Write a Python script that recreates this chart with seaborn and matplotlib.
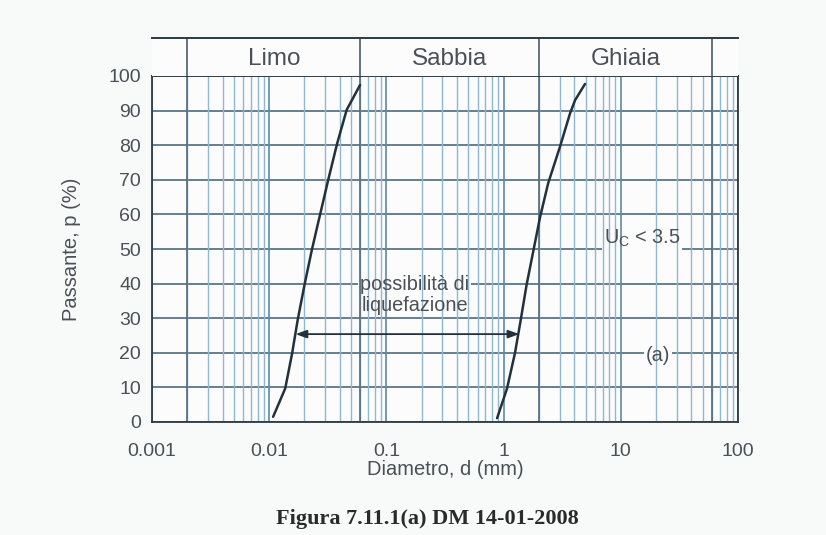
import numpy as np
import pandas as pd
import matplotlib
matplotlib.use("Agg")
import matplotlib.pyplot as plt
import seaborn as sns

# ---- data ----
left_p = [1.5, 9.7, 19.9, 29.5, 39.6, 49.7, 59.8, 70.0, 80.5, 90.2, 97.4]
left_d = [0.0108, 0.0137, 0.0157, 0.0175, 0.0200, 0.0231, 0.0271, 0.0319, 0.0380, 0.0458, 0.0596]
right_p = [1.1, 9.7, 19.9, 29.5, 39.6, 49.7, 59.3, 69.0, 79.6, 89.2, 93.0, 97.7]
right_d = [0.88, 1.07, 1.25, 1.40, 1.57, 1.80, 2.05, 2.40, 3.03, 3.69, 4.07, 4.95]
classes = ["Limo", "Sabbia", "Ghiaia"]
class_bounds = [0.002, 0.06, 2, 60]
x_ticks = [0.001, 0.01, 0.1, 1, 10, 100]
x_ticklabels = ["0.001", "0.01", "0.1", "1", "10", "100"]
y_ticks = list(range(0, 101, 10))
arrow_p = 25.4
arrow_d = [0.0168, 1.36]

df = pd.concat([
    pd.DataFrame({"d": left_d, "p": left_p, "curva": "inf"}),
    pd.DataFrame({"d": right_d, "p": right_p, "curva": "sup"}),
])

sns.set_theme(style="white")
plt.rcParams["font.family"] = ["Liberation Sans", "DejaVu Sans"]

W, H = 826, 535
fig = plt.figure(figsize=(W / 100, H / 100), dpi=100)
bg = "#f8f9f9"
fig.patch.set_facecolor(bg)

L, R, B, T = 152 / W, 738 / W, 1 - 422 / H, 1 - 76 / H
ax = fig.add_axes([L, B, R - L, T - B])
ax.set_facecolor("#fcfcfc")

text_c = "#4a5057"
curve_c = "#22313b"

ax.set_xscale("log")
ax.set_xlim(0.001, 100)
ax.set_ylim(0, 100)
ax.grid(False)

# horizontal grid (below text boxes)
for yv in y_ticks:
    ax.axhline(yv, color="#3c5d72", lw=1.1, zorder=1)
# vertical grid (above text boxes)
for dec in [0.001, 0.01, 0.1, 1, 10]:
    for m in range(2, 10):
        ax.axvline(dec * m, color="#8fb6d2", lw=1.0, zorder=2)
for dec in x_ticks:
    ax.axvline(dec, color="#5f89a8", lw=1.2, zorder=2)
for b in class_bounds:
    ax.axvline(b, color="#53697a", lw=1.2, zorder=2)

sns.lineplot(data=df, x="d", y="p", units="curva", estimator=None, sort=False,
             color=curve_c, lw=1.8, ax=ax, zorder=5)
for ln in ax.lines[-2:]:
    ln.set_solid_joinstyle("round")

ax.set_xticks(x_ticks)
ax.set_xticklabels(x_ticklabels)
ax.set_yticks(y_ticks)
ax.tick_params(axis="both", which="both", length=0, labelsize=14, colors=text_c)
ax.tick_params(axis="x", pad=15)
ax.tick_params(axis="y", pad=8)
ax.minorticks_off()
for s in ax.spines.values():
    s.set_color("#2a3a44")
    s.set_linewidth(1.3)
    s.set_zorder(6)

ax.set_xlabel("Diametro, d (mm)", fontsize=14.5, color=text_c, labelpad=0)
ax.set_ylabel("Passante, p (%)", fontsize=14.5, color=text_c)
ax.yaxis.set_label_coords(-0.121, 0.5)

# arrow and annotations
ax.annotate("", xy=(arrow_d[0], arrow_p), xytext=(arrow_d[1], arrow_p),
            arrowprops=dict(arrowstyle="<|-|>,head_length=0.55,head_width=0.2",
                            color=curve_c, lw=1.3, shrinkA=0, shrinkB=0), zorder=6)

def label(x, y, s, **kw):
    # background box hides the horizontal line only; text drawn on top
    ax.text(x, y, s, ha="center", va="center", fontsize=14.3, color="none",
            multialignment="center", linespacing=1.15, zorder=1.5,
            bbox=dict(boxstyle="square,pad=0.1", fc="#fcfcfc", ec="none"), **kw)
    ax.text(x, y, s, ha="center", va="center", fontsize=14.3, color=text_c,
            multialignment="center", linespacing=1.15, zorder=7, **kw)

label(0.175, 36.6, "possibilità di\nliquefazione")
label(15.2, 53.0, r"U$_\mathregular{C}$ < 3.5")
label(20.7, 19.2, "(a)")

# header band with soil classes
hT = 1 - 38 / H
hax = fig.add_axes([L, T, R - L, hT - T], sharex=ax)
hax.set_facecolor("#fcfcfc")
hax.set_ylim(0, 1)
for s in ["left", "right", "bottom"]:
    hax.spines[s].set_visible(False)
hax.spines["top"].set_color("#2a3a44")
hax.spines["top"].set_linewidth(1.4)
hax.tick_params(axis="both", which="both", length=0, labelbottom=False, labelleft=False)
hax.grid(False, which="both")
for b in class_bounds:
    hax.axvline(b, color="#53697a", lw=1.3)
for i, c in enumerate(classes):
    xm = np.sqrt(class_bounds[i] * class_bounds[i + 1])
    hax.text(xm, 0.45, c, ha="center", va="center", fontsize=17.5, color=text_c)

fig.text(0.517, 1 - 519 / H, "Figura 7.11.1(a) DM 14-01-2008", ha="center", va="center",
         fontsize=16, fontweight="bold", family=["Liberation Serif"], color="#2a2a2a")

fig.savefig("out.png", dpi=100, facecolor=fig.get_facecolor())
